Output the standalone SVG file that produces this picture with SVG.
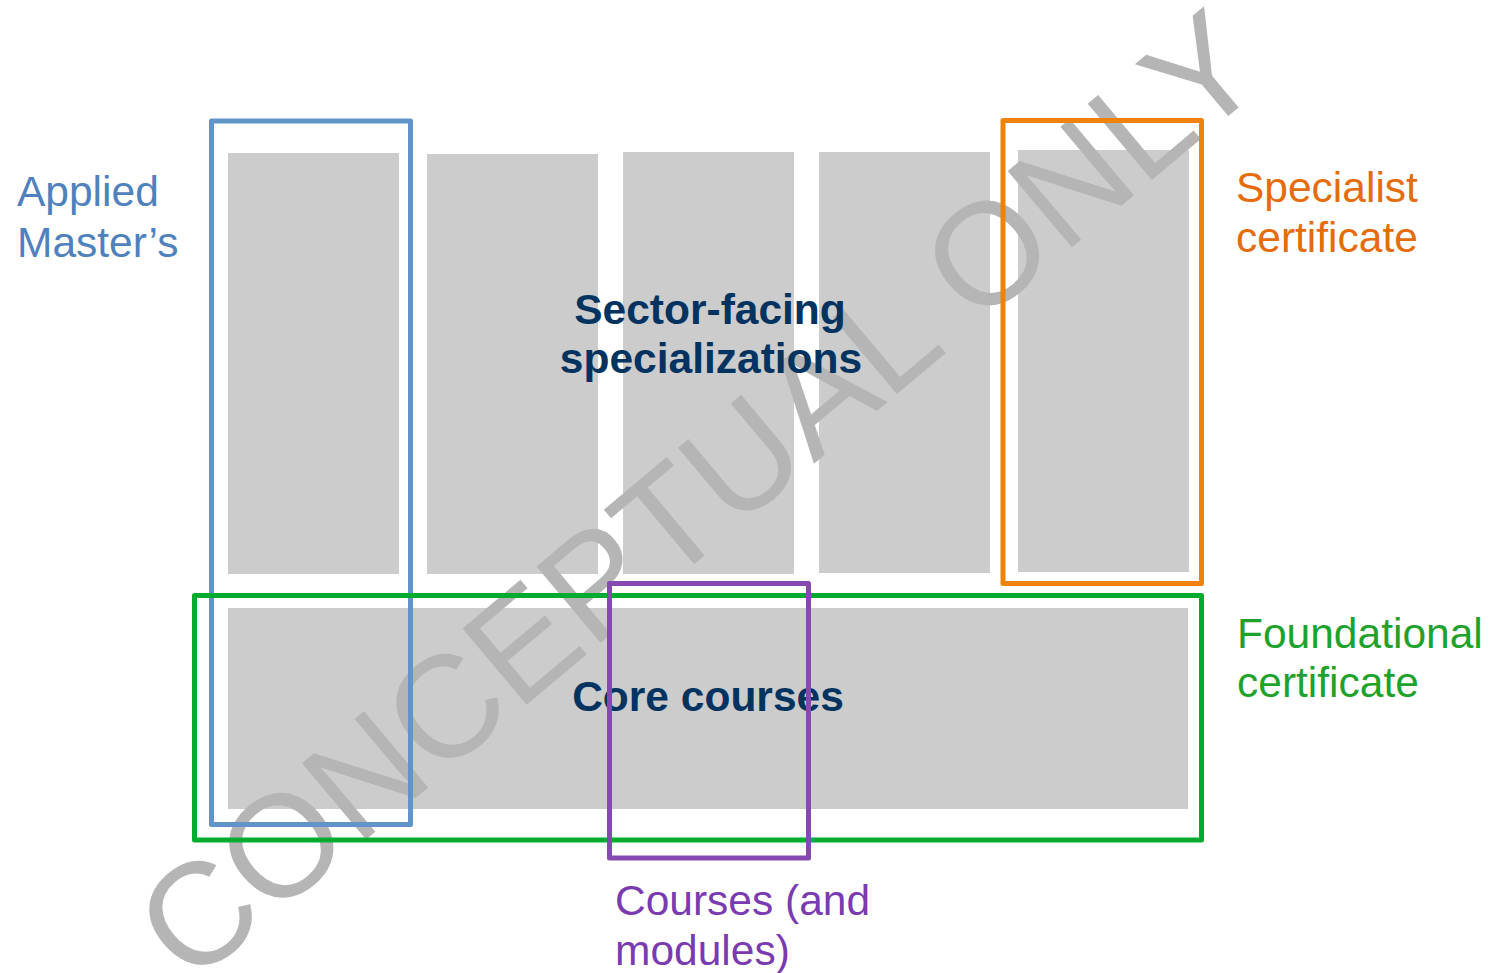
<svg xmlns="http://www.w3.org/2000/svg" width="1490" height="973" viewBox="0 0 1490 973">
  <style>
    .block { fill: #cccccc; }
    .mark { font-family: "Liberation Sans", Arial, sans-serif; font-size: 145px; fill: #b5b5b5; }
    .title { font-family: "Liberation Sans", Arial, sans-serif; font-size: 42.5px; font-weight: bold; fill: #00335f; text-anchor: middle; }
    .label { font-family: "Liberation Sans", Arial, sans-serif; font-size: 42.5px; }
    .frame { fill: none; stroke-width: 5; stroke-linejoin: round; }
  </style>
  <rect width="1490" height="973" fill="#ffffff"/>

  <!-- grey course blocks -->
  <g id="blocks">
    <rect id="spec1" class="block" x="228" y="153" width="171" height="421"/>
    <rect id="spec2" class="block" x="427" y="154" width="171" height="420"/>
    <rect id="spec3" class="block" x="623" y="152" width="171" height="422"/>
    <rect id="spec4" class="block" x="819" y="152" width="171" height="421"/>
    <rect id="spec5" class="block" x="1018" y="150" width="171" height="422"/>
    <rect id="core" class="block" x="228" y="608" width="960" height="201"/>
  </g>

  <!-- watermark -->
  <text class="mark" transform="translate(697,494) rotate(-40)" text-anchor="middle" y="52">CONCEPTUAL ONLY</text>

  <!-- block titles -->
  <g id="titles">
    <text class="title" x="710" y="324">Sector-facing</text>
    <text class="title" x="711" y="373">specializations</text>
    <text class="title" x="708" y="711">Core courses</text>
  </g>

  <!-- grouping frames -->
  <g id="frames">
    <rect id="applied-masters" class="frame" stroke="#6195c9" x="211.5" y="121" width="199" height="703.5"/>
    <rect id="foundational" class="frame" stroke="#00ab2d" x="194.5" y="595.5" width="1007" height="244.5"/>
    <rect id="specialist" class="frame" stroke="#ef8209" x="1003" y="120.5" width="198.5" height="463"/>
    <rect id="courses" class="frame" stroke="#8549b1" x="609.5" y="583.5" width="199" height="274.5"/>
  </g>

  <!-- frame labels -->
  <g id="labels">
    <text class="label" fill="#4f81bd" x="17" y="206">Applied</text>
    <text class="label" fill="#4f81bd" x="17" y="257">Master’s</text>
    <text class="label" fill="#e46c0a" x="1236" y="202">Specialist</text>
    <text class="label" fill="#e46c0a" x="1236" y="252">certificate</text>
    <text class="label" fill="#1ea22c" x="1237" y="648">Foundational</text>
    <text class="label" fill="#1ea22c" x="1237" y="697">certificate</text>
    <text class="label" fill="#7a3ab0" x="615" y="915">Courses (and</text>
    <text class="label" fill="#7a3ab0" x="615" y="965">modules)</text>
  </g>
</svg>
